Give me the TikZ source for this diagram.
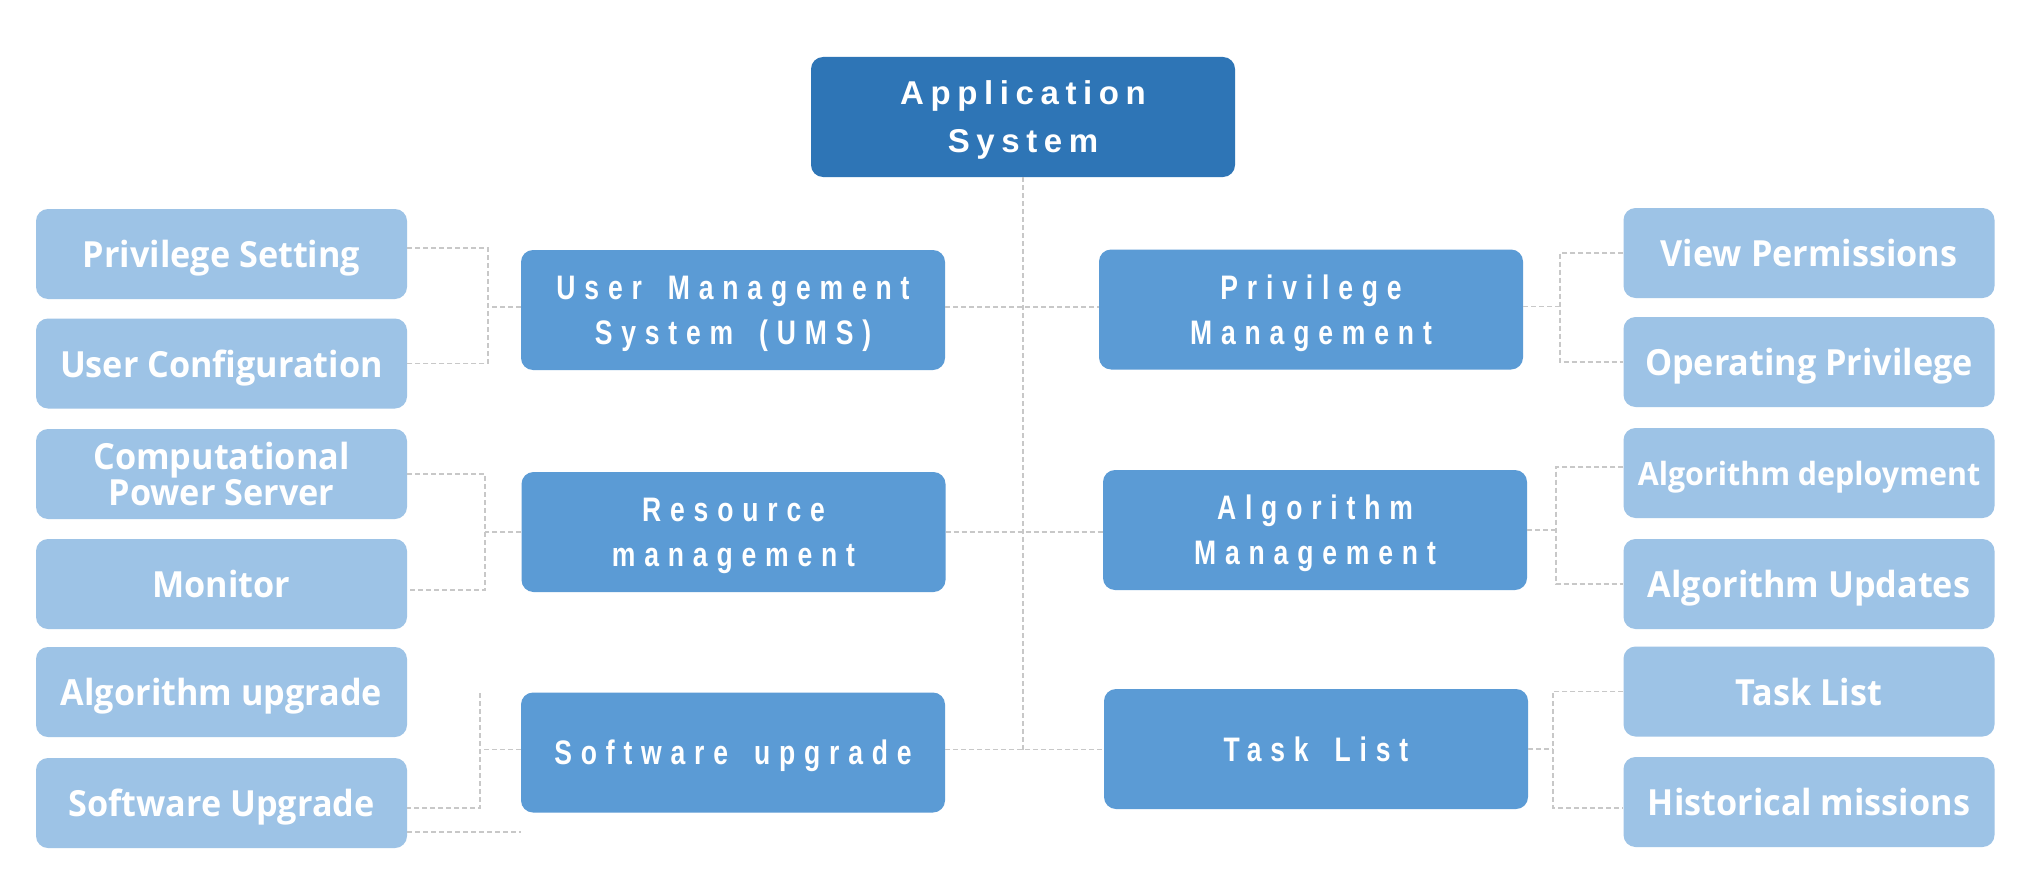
\documentclass[tikz,border=0pt]{standalone}
\usepackage{fontspec}
\setmainfont{Liberation Sans}
\newfontfamily\topfont[LetterSpace=20]{Liberation Sans}
\newfontfamily\midfont[LetterSpace=26,FakeStretch=0.78,WordSpace=1.6]{Liberation Sans}
\newfontfamily\leaffont[FakeStretch=0.95]{Open Sans}
\definecolor{topblue}{HTML}{2E75B6}
\definecolor{midblue}{HTML}{5B9BD5}
\definecolor{leafblue}{HTML}{9DC3E6}
\definecolor{linegray}{HTML}{C8C8C8}
\begin{document}
\begin{tikzpicture}[x=1pt,y=-1pt,
  box/.style={rounded corners=12pt, inner sep=0pt, text=white, align=center, text depth=0pt},
  topbox/.style={box, fill=topblue, minimum width=424pt, minimum height=120pt, font=\topfont\bfseries\fontsize{33}{48}\selectfont},
  midbox/.style={box, fill=midblue, minimum width=424pt, minimum height=120pt, font=\midfont\bfseries\fontsize{34}{45}\selectfont},
  leafbox/.style={box, fill=leafblue, minimum width=371pt, minimum height=90pt, font=\leaffont\bfseries\fontsize{36}{36}\selectfont},
  conn/.style={draw=linegray, line width=1.3pt, dash pattern=on 5pt off 3pt}]
\useasboundingbox (0,0) rectangle (2021,880);
\fill[white] (0,0) rectangle (2021,880);

% top
\node[topbox] (app) at (1023,117) {Application\\System};

% middle
\node[midbox] (ums) at (733,310) {User Management\\System (UMS)};
\node[midbox] (res) at (733.5,532) {Resource\\management};
\node[midbox] (sw)  at (733,752.5) {Software upgrade};
\node[midbox] (pm)  at (1311,309.5) {Privilege\\Management};
\node[midbox] (am)  at (1315,530) {Algorithm\\Management};
\node[midbox] (tl)  at (1316,749) {Task List};

% left leaves
\node[leafbox] (ps)  at (221.5,254) {Privilege Setting};
\node[leafbox] (uc)  at (221.5,363.5) {User Configuration};
\node[leafbox] (cps) at (221.5,474) {\fontsize{36}{33}\selectfont Computational\\Power Server};
\node[leafbox] (mon) at (221.5,584) {Monitor};
\node[leafbox] (au)  at (221.5,692) {Algorithm upgrade};
\node[leafbox] (su)  at (221.5,803) {Software Upgrade};

% right leaves
\node[leafbox] (vp)  at (1809,253) {View Permissions};
\node[leafbox] (op)  at (1809,362) {Operating Privilege};
\node[leafbox] (ad)  at (1809,473) {\fontsize{32}{34}\selectfont Algorithm deployment};
\node[leafbox] (aup) at (1809,584) {Algorithm Updates};
\node[leafbox] (tl2) at (1809,691.5) {Task List};
\node[leafbox] (hm)  at (1809,802) {Historical missions};

% spine
\coordinate (spineEnd) at (1023,753);
\draw[conn] (app.south) -- (spineEnd);
\draw[conn] ([yshift=3pt]ums.east) -- ([yshift=3pt]ums.east -| pm.west);
\draw[conn] (res.east) -- (res.east -| am.west);
\draw[conn] ([yshift=3pt]sw.east) -- ([yshift=3pt]sw.east -| tl.west);

% left brackets
\coordinate (bu) at (488,0);
\draw[conn] ([yshift=6pt]ps.east) -- ([yshift=6pt]ps.east -| bu) -- (uc.east -| bu) -- (uc.east);
\draw[conn] ([yshift=3pt]ums.west) -- ([yshift=3pt]ums.west -| bu);
\coordinate (br) at (485,0);
\draw[conn] (cps.east) -- (cps.east -| br) -- ([yshift=-6pt]mon.east -| br) -- ([yshift=-6pt]mon.east);
\draw[conn] (res.west) -- (res.west -| br);
\coordinate (bsTop) at (480,693);
\draw[conn] (bsTop) -- ([yshift=-5pt]su.east -| bsTop) -- ([yshift=-5pt]su.east);
\draw[conn] ([yshift=3pt]sw.west) -- ([yshift=3pt]sw.west -| bsTop);
\draw[conn] ([yshift=-29pt]su.east) -- ([yshift=-29pt]su.east -| sw.west);

% right brackets
\coordinate (rp) at (1560,0);
\draw[conn] (vp.west) -- (vp.west -| rp) -- (op.west -| rp) -- (op.west);
\draw[conn] ([yshift=3pt]pm.east) -- ([yshift=3pt]pm.east -| rp);
\coordinate (ra) at (1556,0);
\draw[conn] ([yshift=6pt]ad.west) -- ([yshift=6pt]ad.west -| ra) -- (aup.west -| ra) -- (aup.west);
\draw[conn] (am.east) -- (am.east -| ra);
\coordinate (rt) at (1553,0);
\draw[conn] (tl2.west) -- (tl2.west -| rt) -- ([yshift=-6pt]hm.west -| rt) -- ([yshift=-6pt]hm.west);
\draw[conn] (tl.east) -- (tl.east -| rt);
\end{tikzpicture}
\end{document}
